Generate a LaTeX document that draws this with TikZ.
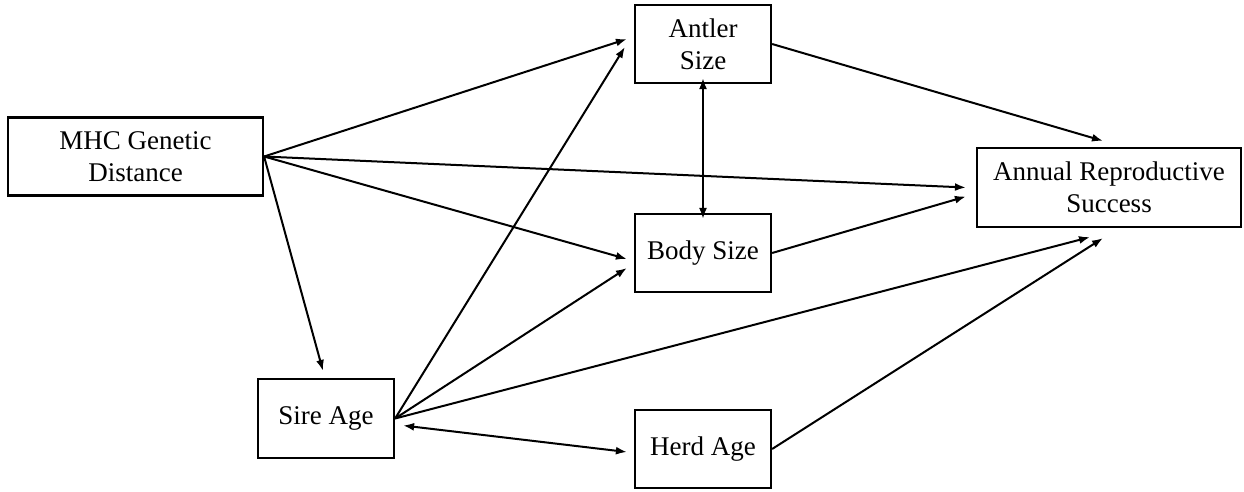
\documentclass[tikz,border=0pt]{standalone}
\usepackage{fontspec}
\setmainfont{Liberation Serif}
\usetikzlibrary{arrows.meta}
\begin{document}
\begin{tikzpicture}[x=1pt,y=-1pt,
  box/.style={draw,line width=2.2pt,inner sep=0pt,align=center,font=\fontsize{27}{32}\selectfont},
  conn/.style={line width=2pt,-{Latex[length=11pt,width=8pt]}},
  biconn/.style={line width=2pt,{Latex[length=11pt,width=8pt]}-{Latex[length=11pt,width=8pt]}}]
\useasboundingbox (0,0) rectangle (1244,491);
\node[box,minimum width=255,minimum height=78] (mhc) at (135.5,156.5) {MHC Genetic\\Distance};
\node[box,minimum width=136,minimum height=78] (antler) at (703,44) {Antler\\Size};
\node[box,minimum width=136,minimum height=78] (body) at (703,253) {Body Size};
\node[box,minimum width=264,minimum height=79] (annual) at (1109,187.5) {Annual Reproductive\\Success};
\node[box,minimum width=136,minimum height=79] (sire) at (326,418.5) {Sire Age};
\node[box,minimum width=136,minimum height=78] (herd) at (703,449) {Herd Age};
% from MHC
\draw[conn] (mhc.east) -- ([shift={(-7,-5)}]antler.west);
\draw[conn] (mhc.east) -- ([shift={(-10,0)}]annual.west);
\draw[conn] (mhc.east) -- ([shift={(-7,6)}]body.west);
\draw[conn] (mhc.east) -- ([shift={(-3,-7)}]sire.north);
% from Sire
\draw[conn] (sire.east) -- ([shift={(-9,3)}]antler.west);
\draw[conn] (sire.east) -- ([shift={(-7,15)}]body.west);
\draw[conn] (sire.east) -- ([shift={(-19,9)}]annual.south);
\draw[biconn] ([shift={(8,7)}]sire.east) -- ([shift={(-7,3)}]herd.west);
% others
\draw[biconn] ([yshift=6]antler.south) -- ([yshift=-6]body.north);
\draw[conn] (antler.east) -- ([shift={(-6,-6)}]annual.north);
\draw[conn] (body.east) -- ([shift={(-10,9)}]annual.west);
\draw[conn] (herd.east) -- ([shift={(-6,10)}]annual.south);
\end{tikzpicture}
\end{document}
